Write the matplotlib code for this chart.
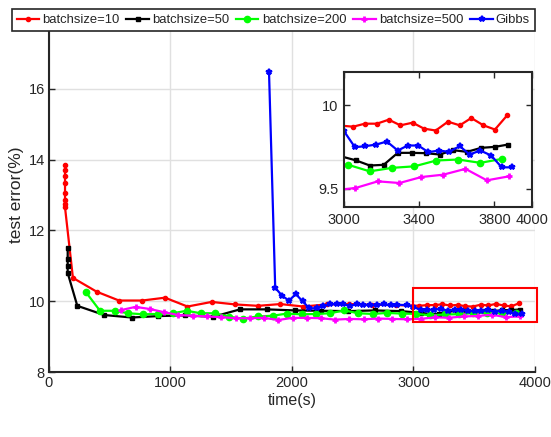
import numpy as np
import matplotlib
matplotlib.use('Agg')
from matplotlib import pyplot as plt
from matplotlib.patches import Rectangle

plt.rcParams['font.family'] = ['Liberation Sans', 'DejaVu Sans']

# batchsize=10
t10 = [132, 132, 132, 132, 132, 132, 132, 132, 197, 392, 576, 768, 955, 1140, 1339, 1531,
       1720, 1905, 2093, 2285, 2470, 2660, 2860, 3049, 3111, 3175, 3238, 3300, 3365, 3426,
       3488, 3553, 3616, 3677, 3742, 3803, 3868]
e10 = [13.85, 13.7, 13.55, 13.35, 13.05, 12.85, 12.75, 12.65, 10.66, 10.27, 10.02, 10.02,
       10.1, 9.85, 9.98, 9.91, 9.87, 9.92, 9.85, 9.91, 9.92, 9.9, 9.89, 9.872, 9.890, 9.890,
       9.914, 9.880, 9.896, 9.860, 9.849, 9.902, 9.880, 9.924, 9.880, 9.855, 9.940]

# batchsize=50
t50 = [154, 154, 154, 154, 233, 455, 680, 900, 1120, 1352, 1572, 1792, 2025, 2240, 2460,
       2680, 2900, 3063, 3137, 3211, 3286, 3360, 3435, 3509, 3581, 3654, 3730, 3803, 3874]
e50 = [11.5, 11.2, 11.0, 10.8, 9.87, 9.61, 9.54, 9.58, 9.6, 9.56, 9.77, 9.77, 9.74, 9.73,
       9.72, 9.74, 9.72, 9.670, 9.639, 9.643, 9.715, 9.715, 9.713, 9.705, 9.731, 9.721,
       9.745, 9.751, 9.765]

# batchsize=200
t200 = [305, 420, 543, 653, 777, 900, 1018, 1133, 1248, 1366, 1484, 1600, 1720, 1841, 1956,
        2080, 2198, 2313, 2430, 2546, 2665, 2783, 2905, 3023, 3137, 3256, 3374, 3491, 3607,
        3725, 3842]
e200 = [10.25, 9.73, 9.73, 9.66, 9.63, 9.64, 9.66, 9.73, 9.66, 9.66, 9.56, 9.51, 9.57, 9.59,
        9.65, 9.63, 9.64, 9.66, 9.74, 9.66, 9.64, 9.67, 9.65, 9.643, 9.604, 9.625, 9.634,
        9.669, 9.675, 9.655, 9.679]

# batchsize=500
t500 = [593, 713, 831, 947, 1064, 1182, 1298, 1416, 1536, 1654, 1770, 1887, 2005, 2121, 2239,
        2354, 2472, 2590, 2708, 2826, 2944, 3061, 3180, 3295, 3412, 3528, 3646, 3760, 3877]
e500 = [9.75, 9.84, 9.78, 9.69, 9.61, 9.59, 9.57, 9.55, 9.52, 9.52, 9.53, 9.47, 9.53, 9.53,
        9.52, 9.48, 9.5, 9.49, 9.51, 9.5, 9.49, 9.504, 9.544, 9.534, 9.570, 9.584, 9.619,
        9.550, 9.574]

# Gibbs
tg = [1811, 1862, 1920, 1975, 2032, 2087, 2143, 2203, 2258, 2313, 2368, 2422, 2477, 2532,
      2588, 2644, 2700, 2756, 2812, 2868, 2944, 3000, 3058, 3114, 3172, 3228, 3286, 3339,
      3395, 3449, 3505, 3558, 3616, 3668, 3725, 3783, 3839, 3895]
eg = [16.48, 10.38, 10.15, 10.02, 10.2, 10.0, 9.8, 9.8, 9.86, 9.91, 9.92, 9.92, 9.86, 9.92,
      9.9, 9.88, 9.9, 9.91, 9.88, 9.9, 9.89, 9.845, 9.749, 9.755, 9.765, 9.783, 9.729, 9.759,
      9.759, 9.719, 9.729, 9.721, 9.755, 9.705, 9.729, 9.699, 9.628, 9.628]

series = [
    (t10, e10, 'batchsize=10', 'r', '.', dict(markersize=6)),
    (t50, e50, 'batchsize=50', 'k', 's', dict(markersize=3.5)),
    (t200, e200, 'batchsize=200', '#00ff00', 'o', dict(markersize=4.5)),
    (t500, e500, 'batchsize=500', '#ff00ff', '+', dict(markersize=4, markeredgewidth=2)),
    (tg, eg, 'Gibbs', 'b', '*', dict(markersize=4, markeredgewidth=1.5)),
]

axcol = '#262626'
fig = plt.figure(figsize=(5.51, 4.37), dpi=100)
ax = fig.add_axes([0.0889, 0.1487, 0.882, 0.81])

lines = []
for t, e, lab, c, m, kw in series:
    l, = ax.plot(t, e, color=c, marker=m, linewidth=1.6, label=lab, **kw)
    lines.append(l)

ax.set_xlim(0, 4000)
ax.set_ylim(8, 18)
ax.set_xticks([0, 1000, 2000, 3000, 4000])
ax.set_yticks([8, 10, 12, 14, 16])
ax.grid(True, color='#e0e0e0', linewidth=1)
ax.set_axisbelow(True)
ax.spines['top'].set_visible(False)
ax.spines['right'].set_visible(False)
for s in ['left', 'bottom']:
    ax.spines[s].set_linewidth(1.5)
    ax.spines[s].set_color(axcol)
ax.tick_params(direction='in', length=4, width=1, colors=axcol, labelsize=10.5, pad=3)
ax.set_xlabel('time(s)', fontsize=11.5, color=axcol, labelpad=2)
ax.set_ylabel('test error(%)', fontsize=12.5, color=axcol, labelpad=3)

# zoom box
ax.add_patch(Rectangle((3000, 9.41), 1016, 0.96, fill=False, edgecolor='r',
                       linewidth=1.5, clip_on=False, zorder=5))

# inset
axi = fig.add_axes([0.6243, 0.5263, 0.3412, 0.3089])
for t, e, lab, c, m, kw in series:
    axi.plot(t, e, color=c, marker=m, linewidth=1.6, **kw)
axi.set_xlim(3000, 4000)
axi.set_ylim(9.39, 10.2)
axi.set_xticks([3000, 3400, 3800, 4000])
axi.set_yticks([9.5, 10])
axi.set_yticklabels(['9.5', '10'])
for s in axi.spines.values():
    s.set_linewidth(1.5)
    s.set_color(axcol)
axi.tick_params(direction='in', length=4, width=1, colors=axcol, labelsize=10.5,
                top=True, right=True, pad=4)

leg = fig.legend(handles=lines, loc='center', bbox_to_anchor=(0.496, 0.954), ncol=5,
                 fontsize=9.4, handlelength=1.7, handletextpad=0.25, columnspacing=0.55,
                 borderpad=0.35, fancybox=False, framealpha=1, edgecolor=axcol)
leg.get_frame().set_linewidth(1.2)
for txt in leg.get_texts():
    txt.set_color(axcol)

plt.savefig('out.png', dpi=100)
plt.close()
